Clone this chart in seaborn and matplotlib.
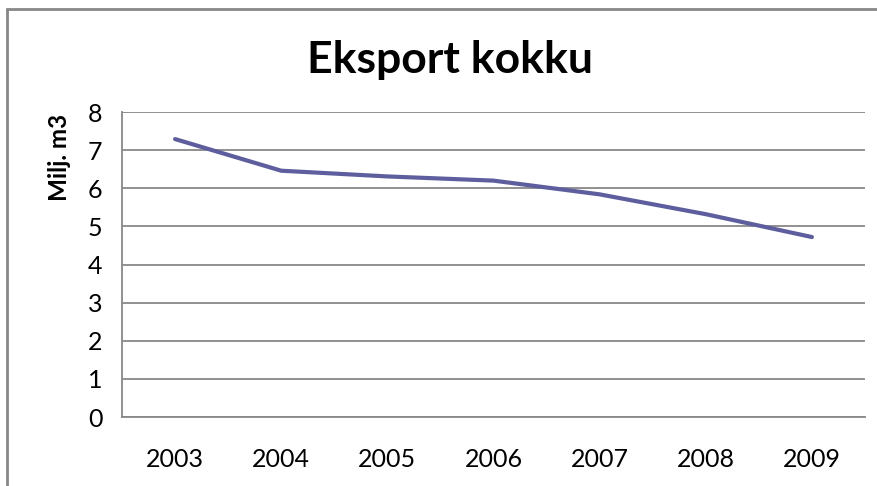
import matplotlib
matplotlib.use("Agg")
import matplotlib.pyplot as plt
import seaborn as sns
import pandas as pd
from matplotlib.lines import Line2D
from matplotlib.ticker import FixedLocator

# andmed
aastad = ["2003", "2004", "2005", "2006", "2007", "2008", "2009"]
eksport = [7.29, 6.46, 6.31, 6.20, 5.84, 5.32, 4.72]

df = pd.DataFrame({"aasta": aastad, "eksport": eksport})

sns.set_style("white")
plt.rcParams["font.family"] = ["Lato", "DejaVu Sans"]
plt.rcParams["text.color"] = "black"
plt.rcParams["xtick.labelcolor"] = "black"
plt.rcParams["ytick.labelcolor"] = "black"
plt.rcParams["axes.labelcolor"] = "black"

fig = plt.figure(figsize=(8.77, 4.86), dpi=100)
ax = fig.add_axes([122 / 877, 69 / 486, (865 - 122) / 877, (417 - 112) / 486])

sns.lineplot(data=df, x="aasta", y="eksport", color="#5E5E9E", linewidth=3, ax=ax, sort=False)

ax.set_xlim(-0.5, len(aastad) - 0.5)
ax.set_ylim(0, 8)
ax.set_yticks(range(0, 9))
ax.yaxis.grid(True, color="#888888", linewidth=1.3)
ax.set_axisbelow(True)

for s in ["top", "right"]:
    ax.spines[s].set_visible(False)
for s in ["left", "bottom"]:
    ax.spines[s].set_color("#888888")
    ax.spines[s].set_linewidth(1.3)

# tikid kategooriate vahel
ax.xaxis.set_minor_locator(FixedLocator([i - 0.5 for i in range(len(aastad) + 1)]))
ax.tick_params(axis="x", which="major", length=0, pad=22, labelsize=18, labelcolor="black")
ax.tick_params(axis="x", which="minor", length=7, color="#888888", width=1.3, direction="out")
ax.tick_params(axis="y", length=9, color="#888888", width=1.3, direction="out", pad=5,
               labelsize=18, labelcolor="black")

ax.set_xlabel("")
ax.set_ylabel("Milj. m3", fontsize=17.5, fontweight="bold", color="black")
ax.yaxis.set_label_coords(-0.068, 0.85)
fig.text(450 / 877, 1 - 60 / 486, "Eksport kokku", ha="center", va="center",
         fontsize=32, fontweight="bold", color="black")

# välimine raam (vasak ja ülemine serv)
fig.add_artist(Line2D([7 / 877, 7 / 877], [0, 1 - 9 / 486], color="#878787", linewidth=2))
fig.add_artist(Line2D([7 / 877, 1], [1 - 9 / 486, 1 - 9 / 486], color="#878787", linewidth=2))

fig.savefig("out.png", dpi=100)
